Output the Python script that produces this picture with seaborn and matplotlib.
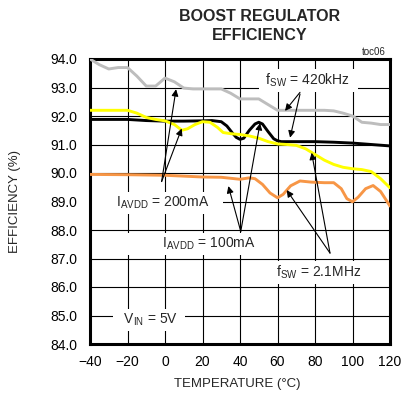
import numpy as np
import pandas as pd
import seaborn as sns
import matplotlib.pyplot as plt


# Data (temperature in degC, efficiency in %)
temp_gray = [-40, -35, -30, -25, -20, -15, -10, -5, 0, 5, 10, 15, 20, 25, 30, 35, 40, 45,
             50, 55, 60, 65, 70, 75, 80, 85, 90, 95, 100, 105, 110, 115, 120]
eff_gray = [94.0, 93.8, 93.65, 93.7, 93.7, 93.4, 93.05, 93.05, 93.33, 93.2, 92.98, 92.95, 92.95,
            92.95, 92.95, 92.8, 92.6, 92.6, 92.6, 92.4, 92.2, 92.2, 92.2, 92.2, 92.2, 92.2,
            92.18, 92.1, 92.0, 91.78, 91.75, 91.7, 91.7]

temp_black = [-40, -30, -20, -10, 0, 10, 20, 25, 30, 33, 36, 38, 40, 42, 45, 48, 50, 52, 55,
              58, 60, 62, 65, 70, 80, 90, 100, 110, 120]
eff_black = [91.88, 91.88, 91.88, 91.84, 91.82, 91.82, 91.83, 91.84, 91.8, 91.65, 91.4, 91.25,
             91.18, 91.22, 91.5, 91.72, 91.78, 91.72, 91.45, 91.2, 91.13, 91.1, 91.1, 91.1,
             91.1, 91.08, 91.05, 91.0, 90.95]

temp_yellow = [-40, -30, -20, -15, -10, -5, 0, 5, 9, 12, 16, 20, 24, 28, 31, 35, 40, 45, 50,
               55, 60, 65, 70, 75, 80, 85, 90, 95, 100, 105, 110, 115, 120]
eff_yellow = [92.2, 92.2, 92.2, 92.1, 91.95, 91.88, 91.83, 91.7, 91.5, 91.55, 91.7, 91.8, 91.78,
              91.6, 91.42, 91.38, 91.35, 91.3, 91.22, 91.1, 91.02, 91.0, 90.97, 90.85, 90.65,
              90.45, 90.3, 90.2, 90.15, 90.12, 90.05, 89.8, 89.48]

temp_orange = [-40, -20, 0, 20, 30, 40, 45, 48, 52, 56, 60, 63, 67, 72, 78, 85, 90, 94, 97,
               100, 103, 107, 111, 115, 120]
eff_orange = [89.95, 89.94, 89.92, 89.86, 89.85, 89.78, 89.83, 89.8, 89.6, 89.3, 89.13, 89.25,
              89.55, 89.72, 89.68, 89.66, 89.66, 89.45, 89.1, 88.99, 89.15, 89.45, 89.56,
              89.35, 88.84]

x_ticks = [-40, -20, 0, 20, 40, 60, 80, 100, 120]
y_ticks = [84, 85, 86, 87, 88, 89, 90, 91, 92, 93, 94]

curves = pd.concat([
    pd.DataFrame({'temp': temp_gray, 'eff': eff_gray, 'curve': '420k_200'}),
    pd.DataFrame({'temp': temp_black, 'eff': eff_black, 'curve': '420k_100'}),
    pd.DataFrame({'temp': temp_yellow, 'eff': eff_yellow, 'curve': '2M1_200'}),
    pd.DataFrame({'temp': temp_orange, 'eff': eff_orange, 'curve': '2M1_100'}),
], ignore_index=True)
palette = {'420k_200': '#bdbdbd', '420k_100': '#000000', '2M1_200': '#ffff00', '2M1_100': '#f79646'}

sns.set_style('white')
plt.rcParams['font.family'] = ['Liberation Sans', 'DejaVu Sans']
plt.rcParams['mathtext.fontset'] = 'custom'
plt.rcParams['mathtext.rm'] = 'Liberation Sans'
plt.rcParams['mathtext.it'] = 'Liberation Sans:italic'

fig = plt.figure(figsize=(4.09, 4.03), dpi=100)
ax = fig.add_axes([90 / 409, 1 - 344 / 403, 300 / 409, 285 / 403])

ax.grid(True, color='black', lw=0.8)
ax.set_axisbelow(True)
sns.lineplot(data=curves, x='temp', y='eff', hue='curve', palette=palette, sort=False,
             estimator=None, legend=False, lw=2.1, ax=ax, zorder=3)

ax.set_xlim(-40, 120)
ax.set_ylim(84, 94)
ax.set_xticks(x_ticks)
ax.set_yticks(y_ticks)
ax.set_yticklabels([f'{v:.1f}' for v in y_ticks])
ax.tick_params(length=0, labelsize=10, colors='black')
ax.tick_params(axis='y', pad=9)
ax.tick_params(axis='x', pad=8)
for sp in ax.spines.values():
    sp.set_linewidth(2.2)
    sp.set_color('black')

ax.set_xlabel('TEMPERATURE (°C)', fontsize=9.5)
ax.set_ylabel('EFFICIENCY (%)', fontsize=9.5)
ax.xaxis.set_label_coords(0.49, -0.12)
ax.yaxis.set_label_coords(-0.23, 0.5)

fig.text(260 / 409, 1 - 26 / 403, 'BOOST REGULATOR\nEFFICIENCY', ha='center', va='center',
         fontsize=11.5, fontweight='bold', linespacing=1.3)
fig.text(386 / 409, 1 - 52 / 403, 'toc06', ha='right', va='center', fontsize=7)

# labels with white boxes that hide the grid
box = dict(boxstyle='square,pad=0.2', fc='white', ec='none')
lab = dict(fontsize=10, ha='center', va='center', bbox=box, zorder=2.5)
ax.text(76.5, 93.26, r' f$_{\rm SW}$ = 420kHz  ', **lab)
ax.text(-4.5, 88.95, r'      I$_{\rm AVDD}$ = 200mA    ', **lab)
ax.text(8.8, 87.5, r'                  I$_{\rm AVDD}$ = 100mA     ', **lab)
ax.text(85.3, 86.5, r'    f$_{\rm SW}$ = 2.1MHz        ', **lab)
ax.text(-8.5, 84.85, r'  V$_{\rm IN}$ = 5V  ', **lab)

arrow = dict(arrowstyle='-|>', color='black', lw=0.8, mutation_scale=10, shrinkA=0, shrinkB=0)
pointers = [
    ((72, 92.83), (64, 92.18)),
    ((72, 92.77), (66.7, 91.24)),
    ((-1.8, 89.7), (5.9, 92.94)),
    ((-1.8, 89.7), (8.9, 91.56)),
    ((40.4, 87.95), (33.8, 89.54)),
    ((40.4, 87.95), (50.7, 91.75)),
    ((88, 87.19), (64.9, 89.4)),
    ((88, 87.19), (78.2, 90.71)),
]
for tail, head in pointers:
    ax.annotate('', xy=head, xytext=tail, arrowprops=arrow, zorder=4)

fig.savefig('out.png', dpi=100)
